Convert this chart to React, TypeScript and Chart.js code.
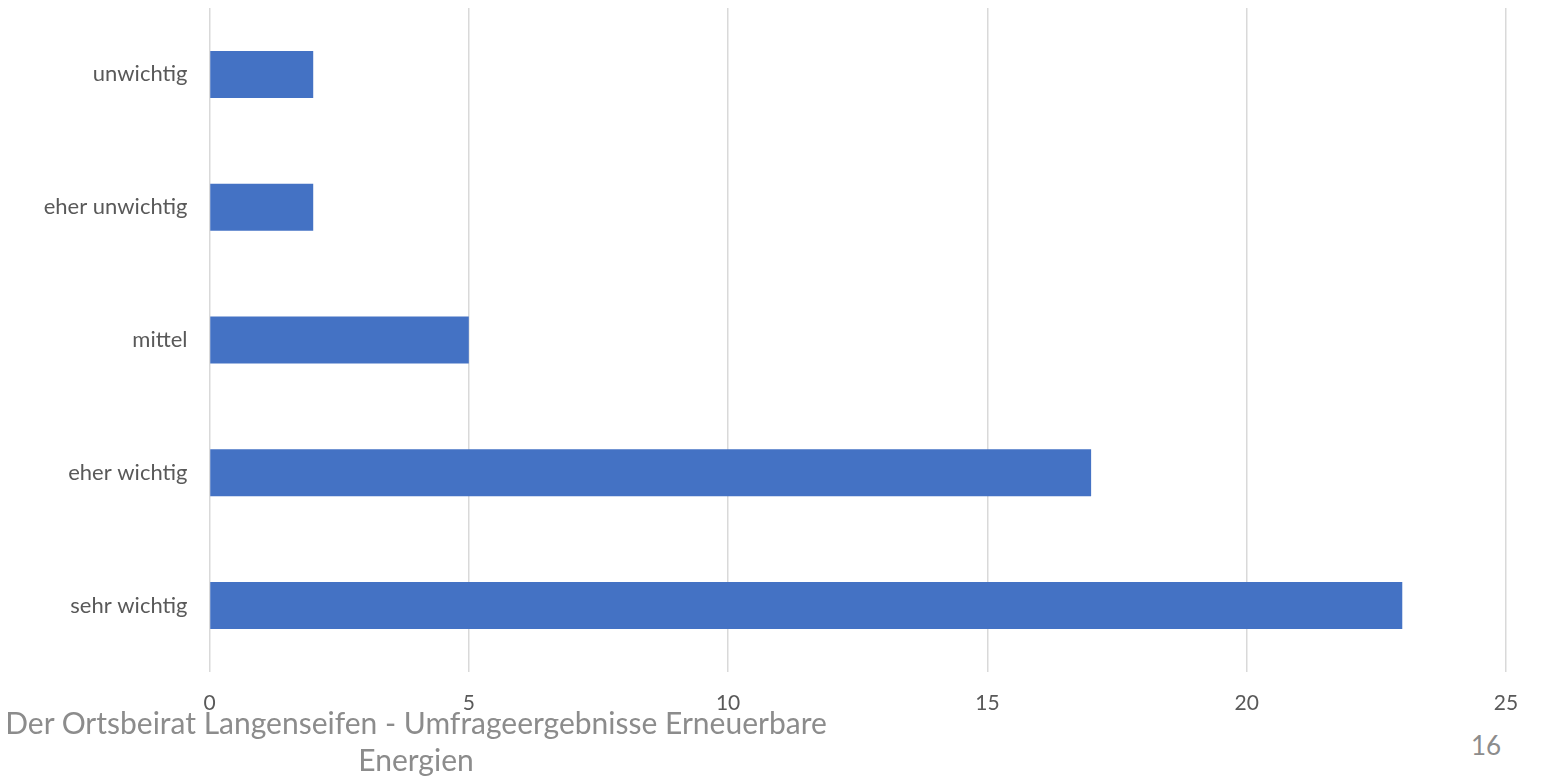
import React, { useEffect, useRef } from "react";
import { Chart, registerables } from "chart.js";

Chart.register(...registerables);

const categories = ["unwichtig", "eher unwichtig", "mittel", "eher wichtig", "sehr wichtig"];
const values = [2, 2, 5, 17, 23];
const xTicks = [0, 5, 10, 15, 20, 25];
const footerText = "Der Ortsbeirat Langenseifen - Umfrageergebnisse Erneuerbare Energien";
const pageNumber = "16";

export default function App() {
  const ref = useRef<HTMLCanvasElement | null>(null);

  useEffect(() => {
    document.body.style.margin = "0";
    const ctx = ref.current!.getContext("2d")!;
    const chart = new Chart(ctx, {
      type: "bar",
      data: {
        labels: categories,
        datasets: [
          {
            data: values,
            backgroundColor: "#4472C4",
            borderWidth: 0,
            barPercentage: 0.354,
            categoryPercentage: 1,
          },
        ],
      },
      options: {
        indexAxis: "y",
        animation: false,
        responsive: false,
        maintainAspectRatio: false,
        layout: { padding: { top: 8, right: 39, left: 0, bottom: 0 } },
        plugins: { legend: { display: false }, tooltip: { enabled: false } },
        scales: {
          x: {
            min: xTicks[0],
            max: xTicks[xTicks.length - 1],
            afterBuildTicks: (s: any) => {
              s.ticks = xTicks.map((v) => ({ value: v }));
            },
            afterFit: (s: any) => {
              s.height = 48;
              s.paddingLeft = 0;
              s.paddingRight = 0;
            },
            grid: { color: "#d9d9d9", lineWidth: 1.5, drawTicks: false },
            border: { display: false },
            ticks: {
              color: "#595959",
              font: { family: "Lato, sans-serif", size: 21 },
              padding: 19,
            },
          },
          y: {
            afterFit: (s: any) => {
              s.width = 209.5;
              s.paddingTop = 0;
              s.paddingBottom = 0;
            },
            grid: { display: false, drawTicks: false },
            border: { display: false },
            ticks: {
              color: "#595959",
              font: { family: "Lato, sans-serif", size: 22 },
              padding: 22,
            },
          },
        },
      },
    });
    return () => chart.destroy();
  }, []);

  return (
    <div style={{ position: "fixed", left: 0, top: 0, width: 1545, height: 779, background: "#fff", overflow: "hidden" }}>
      <canvas ref={ref} width={1545} height={720} style={{ position: "absolute", left: 0, top: 0, width: 1545, height: 720 }} />
      <div
        style={{
          position: "absolute",
          left: 0,
          top: 704,
          width: 832,
          textAlign: "center",
          fontFamily: "Lato, sans-serif",
          fontSize: 30,
          lineHeight: "37px",
          color: "#8c8c8c",
        }}
      >
        {footerText}
      </div>
      <div
        style={{
          position: "absolute",
          left: 1461,
          top: 729,
          width: 50,
          textAlign: "center",
          fontFamily: "Lato, sans-serif",
          fontSize: 26,
          color: "#8c8c8c",
        }}
      >
        {pageNumber}
      </div>
    </div>
  );
}
